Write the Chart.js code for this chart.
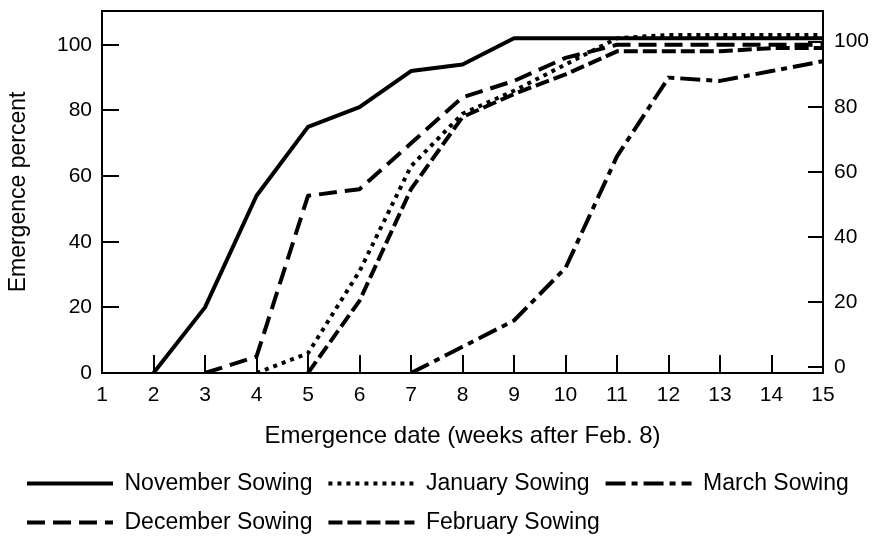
<!DOCTYPE html>
<html>
<head>
<meta charset="utf-8">
<script src="https://cdn.jsdelivr.net/npm/chart.js@4"></script>
<style>
  html, body { margin: 0; padding: 0; background: #fff; }
  #wrap { width: 880px; height: 550px; }
</style>
</head>
<body>
<div id="wrap"><canvas id="chart" width="880" height="550"></canvas></div>
<script>
// weeks after Feb. 8
const weeks = ['1', '2', '3', '4', '5', '6', '7', '8', '9', '10', '11', '12', '13', '14', '15'];

// emergence percent (null = before emergence started)
const novemberSowing = [null, 0, 20, 54, 75, 81, 92, 94, 102, 102, 102, 102, 102, 102, 102];
const decemberSowing = [null, null, 0, 5, 54, 56, 70, 84, 89, 96, 100, 100, 100, 100, 100];
const januarySowing = [null, null, null, 0, 6, 31, 63, 79, 86, 94, 102, 103, 103, 103, 103];
const februarySowing = [null, null, null, null, 0, 22, 56, 78, 85, 91, 98, 98, 98, 99, 99];
const marchSowing = [null, null, null, null, null, null, 0, 8, 16, 32, 66, 90, 89, 92, 95];

const leftTicks = [0, 20, 40, 60, 80, 100];
const rightTicks = [0, 20, 40, 60, 80, 100];

const FONT = 'Liberation Sans, Arial, Helvetica, sans-serif';

function series(label, data, dash) {
  return {
    label: label,
    data: data,
    borderColor: '#000',
    backgroundColor: '#fff',
    borderWidth: 4,
    borderDash: dash,
    borderJoinStyle: 'round',
    pointRadius: 0,
    pointStyle: 'line',
    tension: 0,
    fill: false
  };
}

// no extra room for the end tick labels, the plot area is set by hand
function noPadding(scale) {
  scale.paddingTop = 0;
  scale.paddingBottom = 0;
  scale.paddingLeft = 0;
  scale.paddingRight = 0;
}

// box round the plot area
const frame = {
  id: 'frame',
  beforeDatasetsDraw(chart) {
    const a = chart.chartArea;
    const ctx = chart.ctx;
    ctx.save();
    ctx.strokeStyle = '#000';
    ctx.lineWidth = 2;
    ctx.strokeRect(a.left, a.top, a.right - a.left, a.bottom - a.top);
    ctx.restore();
  }
};

new Chart(document.getElementById('chart'), {
  type: 'line',
  data: {
    labels: weeks,
    datasets: [
      series('November Sowing', novemberSowing, []),
      series('January Sowing', januarySowing, [4, 5]),
      series('March Sowing', marchSowing, [20, 6, 6, 6]),
      series('December Sowing', decemberSowing, [18, 8]),
      series('February Sowing', februarySowing, [14, 5])
    ]
  },
  plugins: [frame],
  options: {
    responsive: false,
    animation: false,
    layout: {
      padding: { left: 11, top: 11, right: 0, bottom: 6 }
    },
    plugins: {
      tooltip: { enabled: false },
      legend: {
        position: 'bottom',
        align: 'start',
        labels: {
          usePointStyle: true,
          pointStyleWidth: 86,
          padding: 16,
          color: '#000',
          font: { family: FONT, size: 23 },
          generateLabels(chart) {
            const items = Chart.defaults.plugins.legend.labels.generateLabels(chart);
            items.forEach(item => {
              const ds = chart.data.datasets[item.datasetIndex];
              item.lineDash = ds.borderDash;
              item.lineWidth = ds.borderWidth;
              item.strokeStyle = ds.borderColor;
              item.lineCap = 'butt';
            });
            return items;
          }
        }
      }
    },
    scales: {
      x: {
        type: 'category',
        offset: false,
        afterFit(scale) { scale.height = 83; noPadding(scale); },
        border: { display: false },
        grid: {
          drawOnChartArea: false,
          tickLength: -18,
          color: '#000',
          lineWidth: 2
        },
        ticks: {
          padding: 28,
          color: '#000',
          maxRotation: 0,
          autoSkip: false,
          font: { family: FONT, size: 21 }
        },
        title: {
          display: true,
          text: 'Emergence date (weeks after Feb. 8)',
          color: '#000',
          padding: { top: 0, bottom: 5 },
          font: { family: FONT, size: 24 }
        }
      },
      y: {
        position: 'left',
        min: 0,
        max: 110.3,
        afterFit(scale) { scale.width = 91; noPadding(scale); },
        afterBuildTicks(scale) { scale.ticks = leftTicks.map(v => ({ value: v })); },
        border: { display: false },
        grid: {
          drawOnChartArea: false,
          tickLength: -17,
          color: '#000',
          lineWidth: 2
        },
        ticks: {
          padding: 27,
          color: '#000',
          font: { family: FONT, size: 21 }
        },
        title: {
          display: true,
          text: 'Emergence percent',
          color: '#000',
          padding: { top: -6, bottom: 0 },
          font: { family: FONT, size: 23 }
        }
      },
      y2: {
        position: 'right',
        min: -1.7,
        max: 109.4,
        afterFit(scale) { scale.width = 57; noPadding(scale); },
        afterBuildTicks(scale) { scale.ticks = rightTicks.map(v => ({ value: v })); },
        border: { display: false },
        grid: {
          drawOnChartArea: false,
          tickLength: -15,
          color: '#000',
          lineWidth: 2
        },
        ticks: {
          padding: 26,
          color: '#000',
          font: { family: FONT, size: 21 }
        }
      }
    }
  }
});
</script>
</body>
</html>
